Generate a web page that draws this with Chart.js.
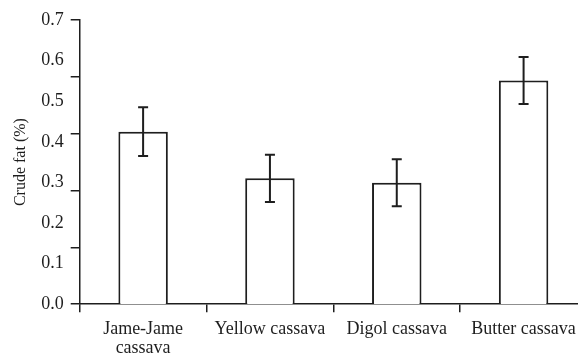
<!DOCTYPE html>
<html>
<head>
<meta charset="utf-8">
<script src="https://cdn.jsdelivr.net/npm/chart.js@4/dist/chart.umd.min.js"></script>
<style>
    html, body { margin: 0; padding: 0; background: #fff; overflow: hidden; }
    #wrap { width: 600px; height: 366px; }
</style>
</head>
<body>
<div id="wrap"><canvas id="fatChart" width="600" height="366"></canvas></div>
<script>
const categories = [['Jame-Jame', 'cassava'], 'Yellow cassava', 'Digol cassava', 'Butter cassava']
const crudeFat = [0.425, 0.310, 0.299, 0.551]
const crudeFatErr = [0.060, 0.058, 0.058, 0.058]
const yTickLabels = ['0.0', '0.1', '0.2', '0.3', '0.4', '0.5', '0.6', '0.7']

const ink = '#1e1e1e'
const serif = 'Liberation Serif'

// error bars drawn from the y scale
const errorBars = {
    id: 'errorBars',
    afterDatasetsDraw(chart) {
        const ctx = chart.ctx
        const y = chart.scales.y
        const meta = chart.getDatasetMeta(0)
        ctx.save()
        ctx.strokeStyle = ink
        ctx.lineWidth = 2
        meta.data.forEach(function (bar, i) {
            const top = y.getPixelForValue(crudeFat[i] + crudeFatErr[i])
            const bottom = y.getPixelForValue(crudeFat[i] - crudeFatErr[i])
            const cap = 5
            ctx.beginPath()
            ctx.moveTo(bar.x, top)
            ctx.lineTo(bar.x, bottom)
            ctx.moveTo(bar.x - cap, top)
            ctx.lineTo(bar.x + cap, top)
            ctx.moveTo(bar.x - cap, bottom)
            ctx.lineTo(bar.x + cap, bottom)
            ctx.stroke()
        })
        ctx.restore()
    }
}

const fatData = {
    labels: categories,
    datasets: [{
        label: 'Crude fat',
        data: crudeFat,
        backgroundColor: '#ffffff',
        borderColor: ink,
        borderWidth: 2,
        borderSkipped: 'bottom',
        barPercentage: 0.39,
        categoryPercentage: 1
    }]
}

const fatConfig = {
    type: 'bar',
    data: fatData,
    options: {
        responsive: false,
        animation: false,
        devicePixelRatio: 1,
        layout: {
            padding: { top: 20, right: 13, bottom: 0, left: 11 }
        },
        plugins: {
            legend: { display: false },
            tooltip: { enabled: false }
        },
        scales: {
            x: {
                offset: true,
                grid: {
                    offset: true,
                    drawOnChartArea: false,
                    drawTicks: true,
                    tickLength: 8,
                    color: ink,
                    lineWidth: 1.5
                },
                border: { display: true, color: ink, width: 1.5 },
                ticks: {
                    color: ink,
                    padding: 8,
                    maxRotation: 0,
                    autoSkip: false,
                    font: { family: serif, size: 18, lineHeight: 1.05 }
                }
            },
            y: {
                position: 'left',
                weight: 1,
                min: 0,
                max: 0.7,
                grid: { display: false, drawTicks: false },
                border: { display: false },
                ticks: {
                    stepSize: 0.1,
                    color: ink,
                    padding: 7,
                    font: { family: serif, size: 18 },
                    callback: function (value, index) {
                        return yTickLabels[index]
                    }
                },
                title: {
                    display: true,
                    text: 'Crude fat (%)',
                    color: ink,
                    padding: { top: 0, bottom: 4 },
                    font: { family: serif, size: 16 }
                }
            },
            // tick marks of the original sit on a 0-0.5 grid
            yMarks: {
                position: 'left',
                weight: 0,
                min: 0,
                max: 0.5,
                grid: {
                    drawOnChartArea: false,
                    drawTicks: true,
                    tickLength: 9,
                    color: ink,
                    lineWidth: 1.5
                },
                border: { display: true, color: ink, width: 1.5 },
                ticks: { display: false, stepSize: 0.1 }
            }
        }
    },
    plugins: [errorBars]
}

const fatChart = new Chart(
    document.getElementById('fatChart'),
    fatConfig
)
</script>
</body>
</html>
